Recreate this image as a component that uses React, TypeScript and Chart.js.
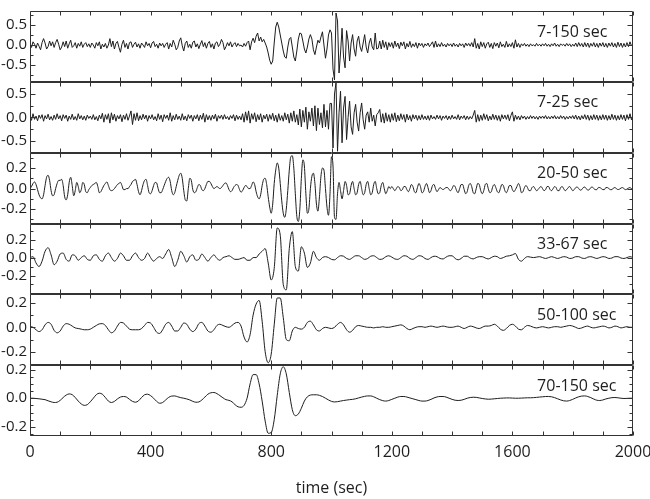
import React, { useEffect, useRef } from 'react';
import { Chart, registerables } from 'chart.js';

Chart.register(...registerables);

// ---------- axes ----------
const X_MIN = 0;
const X_MAX = 2000;
const X_TICKS = [0, 400, 800, 1200, 1600, 2000];
const X_MINOR_STEP = 100;
const X_TITLE = 'time (sec)';

// ---------- panels (top to bottom) ----------
const PANEL_LABELS = ['7-150 sec', '7-25 sec', '20-50 sec', '33-67 sec', '50-100 sec', '70-150 sec'];
const PANEL_MIN = [-0.92, -0.75, -0.34, -0.41, -0.31, -0.264];
const PANEL_MAX = [0.85, 0.76, 0.35, 0.38, 0.27, 0.231];
const PANEL_TICKS = [
  [-0.5, 0, 0.5],
  [-0.5, 0, 0.5],
  [-0.2, 0, 0.2],
  [-0.2, 0, 0.2],
  [-0.2, 0, 0.2],
  [-0.2, 0, 0.2],
];
const PANEL_MINOR = [0.25, 0.25, 0.1, 0.1, 0.1, 0.05];
// sample interval (sec) of each trace
const PANEL_DT = [5, 5, 5, 10, 10, 10];

// ---------- traces ----------
const TRACE_7_150 = [
  0.04, -0.06, 0.08, 0.02, -0.08, 0.05, -0.03, -0.12, 0.06, 0.16, 0.05, -0.1, -0.04, 0.1, -0.02, 0.08, -0.06, 0.06, 0.14, 0.02,
  -0.12, -0.05, 0.08, -0.04, 0.1, -0.08, 0.03, 0.12, -0.06, -0.02, 0.06, -0.08, 0.04, -0.03, 0.08, -0.06, 0.02, 0.06, -0.04, 0.03,
  -0.06, 0.05, 0.0, -0.08, 0.06, -0.02, 0.08, -0.1, 0.02, -0.05, 0.04, -0.08, 0.0, 0.16, -0.04, 0.1, -0.1, 0.04, 0.09, -0.06,
  -0.18, 0.02, 0.12, -0.06, 0.04, -0.1, 0.06, 0.08, -0.06, 0.02, 0.07, -0.05, 0.03, -0.08, 0.05, 0.0, -0.06, 0.08, -0.02, 0.04,
  -0.07, 0.05, 0.09, -0.04, 0.02, -0.08, 0.05, -0.02, 0.04, -0.06, 0.02, 0.06, -0.1, 0.04, -0.05, 0.12, 0.02, -0.12, -0.06, 0.1,
  0.18, -0.02, -0.15, 0.04, 0.1, -0.06, 0.02, -0.08, 0.07, 0.1, -0.05, 0.03, -0.09, 0.02, 0.11, -0.04, 0.06, -0.08, 0.04, 0.09,
  -0.06, 0.03, -0.1, 0.05, 0.08, -0.04, 0.02, 0.14, 0.06, -0.12, -0.04, 0.06, -0.02, 0.08, -0.05, 0.02, 0.06, -0.04, 0.04, -0.02,
  0.0, -0.05, 0.04, -0.03, 0.06, 0.1, -0.12, 0.08, 0.17, 0.06, 0.22, 0.3, 0.1, 0.2, 0.08, 0.14, 0.05, -0.05, -0.2, -0.38,
  -0.48, -0.4, 0.05, 0.45, 0.57, 0.45, 0.25, 0.05, -0.15, -0.3, -0.33, -0.05, 0.15, 0.19, -0.05, -0.3, -0.4, -0.15, 0.15, 0.3,
  0.28, 0.1, -0.1, -0.2, -0.05, 0.15, 0.26, 0.15, -0.12, -0.24, -0.05, 0.12, 0.05, 0.2, 0.33, 0.0, -0.33, -0.1, 0.25, 0.38,
  0.3, -0.6, -0.87, 0.8, 0.6, -0.7, -0.2, 0.42, -0.3, -0.57, 0.36, 0.1, -0.4, 0.05, 0.26, -0.1, -0.28, 0.1, 0.22, -0.05,
  -0.16, 0.05, 0.26, -0.05, -0.2, 0.05, 0.17, -0.05, -0.12, 0.3, -0.1, -0.08, 0.1, -0.1, 0.12, -0.06, 0.08, -0.12, 0.06, -0.04,
  0.06, -0.08, 0.1, -0.04, 0.05, -0.09, 0.07, -0.02, 0.08, -0.1, 0.04, -0.05, 0.09, -0.06, 0.03, -0.04, 0.06, -0.08, 0.05, -0.02,
  0.04, -0.06, 0.03, -0.02, 0.05, -0.04, 0.02, 0.08, -0.06, 0.1, -0.05, 0.03, -0.04, 0.06, -0.03, 0.02, -0.05, 0.04, -0.02, 0.03,
  -0.04, 0.05, -0.03, 0.02, -0.05, 0.04, -0.02, 0.03, -0.06, 0.05, -0.02, 0.04, -0.03, 0.06, -0.05, 0.16, -0.08, 0.04, -0.1, 0.08,
  -0.04, 0.06, -0.08, 0.03, 0.07, -0.06, 0.04, -0.09, 0.06, -0.03, 0.05, -0.07, 0.08, -0.04, 0.02, -0.06, 0.09, -0.05, 0.03, -0.04,
  0.06, -0.08, 0.13, -0.05, 0.04, -0.06, 0.03, -0.02, 0.04, -0.03, 0.02, -0.04, 0.03, -0.02, 0.01, -0.03, 0.04, -0.02, 0.02, -0.03,
  0.03, -0.02, 0.04, -0.03, 0.02, -0.04, 0.03, -0.02, 0.05, -0.03, 0.02, -0.04, 0.03, -0.01, 0.02, -0.03, 0.04, -0.02, 0.03, -0.04,
  0.02, -0.03, 0.05, -0.04, 0.06, -0.03, 0.04, -0.05, 0.06, -0.04, 0.05, -0.06, 0.04, -0.03, 0.06, -0.05, 0.04, -0.06, 0.05, -0.03,
  0.06, -0.05, 0.04, -0.06, 0.05, -0.03, 0.06, -0.05, 0.04, -0.06, 0.07, -0.04, 0.05, -0.06, 0.04, -0.05, 0.06, -0.04, 0.08, -0.02,
  0.03,
];

const TRACE_7_25 = [
  0.05, -0.06, 0.08, -0.04, 0.03, -0.07, 0.05, -0.02, 0.06, -0.08, 0.04, -0.03, 0.07, -0.05, 0.02, -0.06, 0.05, -0.04, 0.08, -0.03,
  0.04, -0.07, 0.06, -0.02, 0.05, -0.08, 0.03, -0.04, 0.07, -0.05, 0.02, -0.06, 0.08, -0.03, 0.04, -0.05, 0.03, -0.06, 0.05, -0.02,
  0.03, -0.04, 0.06, -0.05, 0.02, -0.07, 0.05, -0.03, 0.09, -0.1, 0.06, -0.04, 0.08, -0.12, 0.1, -0.05, 0.07, -0.08, 0.04, -0.03,
  0.06, -0.09, 0.05, -0.04, 0.08, -0.06, 0.03, 0.14, -0.15, 0.08, -0.06, 0.1, -0.07, 0.04, -0.05, 0.07, -0.03, 0.05, -0.08, 0.04,
  -0.03, 0.06, -0.05, 0.02, -0.07, 0.08, -0.04, 0.05, -0.09, 0.06, -0.02, 0.05, -0.06, 0.1, -0.08, 0.04, -0.05, 0.07, -0.04, 0.03,
  -0.06, 0.08, -0.05, 0.03, -0.07, 0.06, -0.02, 0.05, -0.08, 0.04, -0.03, 0.06, -0.07, 0.05, -0.04, 0.09, -0.1, 0.06, -0.05, 0.04,
  -0.06, 0.05, -0.03, 0.07, -0.08, 0.04, -0.02, 0.05, -0.04, 0.06, -0.03, 0.02, -0.05, 0.04, -0.02, 0.06, -0.07, 0.05, -0.04, 0.03,
  -0.05, 0.08, -0.1, 0.12, -0.06, 0.14, -0.12, 0.08, -0.04, 0.1, -0.09, 0.06, -0.05, 0.08, -0.1, 0.05, -0.03, 0.07, -0.08, 0.06,
  -0.04, 0.09, -0.07, 0.05, -0.1, 0.08, -0.06, 0.04, -0.08, 0.1, -0.05, 0.07, -0.12, 0.1, -0.08, 0.14, -0.1, 0.06, -0.16, 0.18,
  -0.2, 0.15, -0.1, 0.22, -0.25, 0.12, -0.08, 0.2, -0.18, 0.25, -0.28, 0.2, -0.15, 0.1, -0.22, 0.28, -0.2, 0.15, -0.25, 0.3,
  0.3, -0.65, 0.5, 0.74, -0.72, 0.1, 0.56, -0.54, 0.2, 0.45, -0.47, 0.0, 0.35, -0.2, -0.36, 0.1, 0.28, -0.1, -0.29, 0.1,
  0.31, -0.05, -0.25, 0.05, 0.12, -0.1, 0.2, -0.08, 0.05, -0.18, 0.06, 0.1, 0.17, -0.1, 0.08, -0.12, 0.1, -0.08, 0.06, -0.1,
  0.08, -0.06, 0.1, -0.09, 0.05, -0.07, 0.08, -0.04, 0.06, -0.1, 0.07, -0.05, 0.04, -0.08, 0.06, -0.03, 0.05, -0.06, 0.04, -0.05,
  0.06, -0.04, 0.03, -0.05, 0.04, -0.06, 0.05, -0.03, 0.02, -0.04, 0.05, -0.03, 0.04, -0.06, 0.03, -0.02, 0.04, -0.05, 0.03, -0.04,
  0.05, -0.03, 0.02, -0.04, 0.06, -0.05, 0.03, -0.02, 0.04, -0.05, 0.03, -0.04, 0.02, -0.03, 0.05, 0.15, -0.1, 0.06, -0.08, 0.05,
  -0.06, 0.08, -0.04, 0.06, -0.07, 0.03, -0.05, 0.07, -0.04, 0.05, -0.06, 0.04, -0.08, 0.06, -0.03, 0.05, -0.04, 0.06, -0.07, 0.04,
  0.12, -0.08, 0.05, -0.04, 0.03, -0.05, 0.04, -0.02, 0.03, -0.04, 0.02, -0.03, 0.04, -0.02, 0.03, -0.03, 0.02, -0.04, 0.03, -0.02,
  0.03, -0.02, 0.04, -0.03, 0.02, -0.03, 0.03, -0.02, 0.04, -0.03, 0.02, -0.03, 0.04, -0.02, 0.03, -0.04, 0.02, -0.03, 0.03, -0.02,
  0.04, -0.03, 0.05, -0.04, 0.03, -0.05, 0.04, -0.03, 0.06, -0.04, 0.05, -0.06, 0.04, -0.05, 0.06, -0.04, 0.05, -0.06, 0.04, -0.05,
  0.06, -0.04, 0.05, -0.06, 0.04, -0.05, 0.07, -0.04, 0.05, -0.06, 0.04, -0.05, 0.06, -0.04, 0.05, -0.07, 0.06, -0.04, 0.08, -0.05,
  0.04,
];

const TRACE_20_50 = [
  0.0, 0.02, 0.05, 0.065, 0.04, -0.01, -0.06, -0.09, -0.1, -0.06, 0.03, 0.11, 0.13, 0.08, -0.02, -0.07, -0.06, 0.0, 0.05, 0.08,
  0.08, 0.09, 0.03, -0.08, -0.11, -0.06, 0.06, 0.11, 0.03, -0.07, -0.02, 0.06, 0.02, -0.04, -0.01, 0.06, 0.04, -0.03, -0.04, -0.01,
  0.01, 0.03, 0.04, 0.05, 0.06, 0.02, -0.04, -0.03, 0.0, 0.03, 0.05, 0.065, 0.03, -0.01, -0.02, -0.015, 0.0, 0.02, 0.04, 0.05,
  0.06, 0.03, -0.01, -0.01, 0.0, 0.0, 0.02, 0.04, 0.07, 0.08, 0.09, 0.04, -0.03, -0.06, -0.02, 0.04, 0.08, 0.09, 0.03, -0.04,
  -0.05, -0.02, 0.03, 0.06, 0.055, 0.0, -0.04, -0.04, -0.01, 0.03, 0.07, 0.1, 0.11, 0.07, -0.02, -0.06, -0.04, 0.02, 0.08, 0.13,
  0.15, 0.1, -0.02, -0.11, -0.12, 0.0, 0.1, 0.08, -0.01, -0.04, -0.03, 0.01, 0.04, 0.03, -0.01, -0.02, 0.0, 0.04, 0.07, 0.07,
  0.05, 0.02, 0.0, 0.01, 0.02, 0.01, 0.0, 0.01, 0.03, 0.05, 0.055, 0.03, -0.01, -0.03, -0.02, 0.01, 0.03, 0.04, 0.03, -0.01,
  -0.035, -0.02, 0.01, 0.03, 0.02, 0.0, 0.0, 0.03, 0.065, 0.04, -0.03, -0.08, -0.1, -0.06, 0.03, 0.09, 0.1, 0.04, -0.08, -0.18,
  -0.24, -0.15, 0.05, 0.18, 0.25, 0.2, 0.05, -0.12, -0.24, -0.28, -0.2, -0.02, 0.18, 0.31, 0.32, 0.2, -0.05, -0.27, -0.32, -0.2,
  0.1, 0.28, 0.22, -0.05, -0.24, -0.2, 0.0, 0.12, 0.15, 0.05, -0.15, -0.22, -0.08, 0.12, 0.2, 0.18, 0.0, -0.18, -0.26, -0.05,
  0.31, 0.22, -0.28, -0.3, -0.05, 0.06, -0.02, -0.1, -0.02, 0.07, 0.03, -0.06, -0.05, 0.03, 0.07, 0.0, -0.06, -0.04, 0.04, 0.07,
  0.0, -0.06, -0.04, 0.04, 0.07, 0.0, -0.06, -0.04, 0.04, 0.07, 0.0, -0.05, -0.04, 0.03, 0.06, 0.0, -0.05, -0.02, 0.02, 0.0,
  0.02, 0.0, -0.02, 0.0, 0.02, 0.01, -0.02, -0.01, 0.02, 0.02, -0.01, -0.03, 0.0, 0.04, 0.02, -0.03, -0.04, 0.01, 0.05, 0.02,
  -0.04, -0.03, 0.02, 0.05, 0.01, -0.04, -0.02, 0.03, 0.04, 0.0, -0.03, -0.01, 0.01, 0.0, -0.01, 0.0, 0.01, 0.01, -0.01, -0.02,
  0.0, 0.03, 0.02, -0.02, -0.04, 0.0, 0.04, 0.04, -0.01, -0.05, -0.03, 0.03, 0.05, 0.02, -0.04, -0.05, 0.0, 0.05, 0.04, -0.02,
  -0.05, -0.02, 0.04, 0.05, 0.0, -0.04, -0.03, 0.02, 0.04, 0.01, -0.03, -0.04, 0.0, 0.04, 0.03, -0.02, -0.04, -0.01, 0.03, 0.03,
  -0.01, -0.03, -0.01, 0.02, 0.05, 0.02, -0.04, -0.03, 0.01, 0.03, 0.01, -0.02, -0.02, 0.01, 0.02, 0.0, -0.02, -0.01, 0.01, 0.02,
  0.0, -0.02, -0.01, 0.02, 0.02, -0.01, -0.02, 0.0, 0.02, 0.01, -0.02, -0.02, 0.01, 0.02, 0.0, -0.02, -0.01, 0.01, 0.02, 0.0,
  -0.02, -0.01, 0.01, 0.015, 0.0, -0.015, -0.01, 0.01, 0.015, 0.0, -0.015, -0.01, 0.01, 0.015, 0.0, -0.01, -0.01, 0.01, 0.01, 0.0,
  -0.01, -0.01, 0.01, 0.01, 0.0, -0.01, -0.01, 0.005, 0.01, 0.0, -0.01, -0.005, 0.005, 0.01, 0.0, -0.01, -0.005, 0.005, 0.01, 0.0,
  0.0,
];

const TRACE_33_67 = [
  0.0, 0.01, -0.06, -0.1, -0.04, 0.07, 0.11, 0.03, -0.08, -0.04,
  0.04, 0.05, -0.02, -0.04, 0.03, 0.02, -0.03, 0.0, 0.02, -0.02,
  -0.03, 0.02, 0.03, -0.02, -0.04, 0.02, 0.05, 0.0, -0.04, -0.01,
  0.05, 0.02, -0.03, -0.03, 0.02, 0.05, 0.0, -0.03, -0.01, 0.05,
  0.0, -0.04, -0.01, 0.01, -0.01, 0.04, 0.09, 0.0, -0.1, -0.03,
  0.07, 0.02, -0.05, 0.01, 0.03, -0.03, -0.02, 0.04, 0.0, -0.04,
  0.0, 0.03, -0.01, -0.03, 0.0, 0.01, 0.02, 0.0, -0.02, -0.02,
  -0.01, 0.0, -0.03, -0.03, 0.0, 0.0, 0.04, 0.07, 0.1, -0.06,
  -0.25, -0.12, 0.33, 0.25, -0.3, -0.36, 0.1, 0.29, -0.1, -0.15,
  0.12, 0.05, -0.11, -0.06, 0.07, 0.0, -0.03, 0.0, 0.01, 0.0,
  -0.02, -0.025, 0.0, 0.02, 0.015, -0.01, -0.02, 0.0, 0.02, 0.02,
  0.0, -0.02, -0.01, 0.015, 0.02, 0.0, -0.02, -0.015, 0.01, 0.02,
  0.005, -0.015, -0.02, 0.0, 0.02, 0.015, -0.01, -0.02, 0.0, 0.02,
  0.015, -0.01, -0.02, 0.0, 0.015, 0.01, -0.01, -0.015, 0.005, 0.02,
  0.02, -0.01, -0.025, -0.01, 0.015, 0.015, -0.005, -0.015, 0.0, 0.01,
  0.01, -0.005, -0.015, 0.0, 0.015, 0.01, -0.01, 0.0, 0.015, 0.02,
  0.03, 0.045, -0.02, -0.04, -0.01, 0.01, 0.005, 0.0, 0.005, 0.01,
  0.0, -0.01, 0.0, 0.01, 0.0, -0.01, 0.0, 0.01, 0.005, -0.01,
  -0.005, 0.01, 0.01, -0.005, -0.01, 0.005, 0.01, 0.0, -0.01, 0.0,
  0.01, 0.005, -0.01, -0.005, 0.01, 0.01, -0.005, -0.01, 0.0, 0.01,
  0.0,
];

const TRACE_50_100 = [
  0.01, 0.0, -0.02, -0.035, -0.02, 0.02, 0.04, 0.025, -0.025, -0.045,
  -0.03, 0.01, 0.03, 0.025, 0.01, -0.005, -0.01, -0.015, -0.02, -0.02,
  -0.015, 0.0, 0.015, 0.028, 0.03, 0.015, -0.02, -0.045, -0.03, 0.01,
  0.04, 0.035, 0.01, -0.015, -0.02, -0.02, -0.02, -0.01, 0.015, 0.04,
  0.035, 0.0, -0.04, -0.05, -0.02, 0.025, 0.04, 0.01, -0.03, -0.03,
  0.0, 0.035, 0.025, -0.015, -0.035, -0.015, 0.03, 0.04, 0.01, -0.03,
  -0.04, -0.02, 0.015, 0.025, 0.015, 0.005, 0.0, 0.015, 0.035, 0.04,
  0.01, -0.08, -0.12, -0.06, 0.1, 0.19, 0.22, 0.05, -0.2, -0.29,
  -0.22, 0.02, 0.24, 0.24, 0.08, -0.1, -0.11, -0.03, 0.0, -0.01,
  -0.015, 0.0, 0.04, 0.05, 0.02, -0.02, -0.03, -0.01, 0.0, -0.005,
  -0.01, 0.0, 0.025, 0.04, 0.02, -0.02, -0.04, -0.025, 0.005, 0.015,
  0.01, 0.005, 0.0, 0.0, -0.005, 0.0, 0.0, 0.005, 0.0, 0.0,
  0.005, 0.01, 0.015, 0.02, 0.01, -0.01, -0.02, -0.01, 0.0, 0.005,
  0.005, 0.0, 0.005, 0.01, 0.005, 0.0, 0.005, 0.01, 0.005, 0.0,
  0.0, 0.005, 0.01, 0.0, -0.01, 0.0, 0.01, 0.005, -0.005, -0.01,
  0.0, 0.01, 0.01, 0.015, 0.025, 0.01, -0.015, -0.025, -0.01, 0.015,
  0.025, 0.01, -0.015, -0.02, 0.0, 0.015, 0.01, 0.0, -0.005, 0.0,
  0.005, 0.0, -0.005, 0.0, 0.005, 0.005, 0.0, 0.005, 0.01, 0.015,
  0.01, 0.0, -0.01, -0.005, 0.005, 0.01, 0.0, -0.005, 0.0, 0.005,
  0.01, 0.005, -0.005, 0.0, 0.01, 0.005, -0.005, 0.0, 0.005, 0.0,
  0.0,
];

const TRACE_70_150 = [
  0.0, 0.0, -0.002, -0.004, -0.007, -0.01, -0.018, -0.025, -0.03, -0.028,
  -0.015, 0.005, 0.022, 0.03, 0.025, 0.005, -0.02, -0.04, -0.05, -0.045,
  -0.025, 0.0, 0.025, 0.035, 0.028, 0.005, -0.02, -0.03, -0.022, -0.005,
  0.008, 0.012, 0.008, -0.008, -0.022, -0.028, -0.018, 0.005, 0.024, 0.028,
  0.018, 0.0, -0.022, -0.035, -0.03, -0.012, 0.006, 0.015, 0.016, 0.01,
  0.004, 0.0, -0.005, -0.012, -0.022, -0.028, -0.026, -0.012, 0.008, 0.028,
  0.038, 0.04, 0.032, 0.018, 0.003, -0.01, -0.015, -0.025, -0.045, -0.06,
  -0.063, -0.05, 0.0, 0.1, 0.165, 0.165, 0.1, -0.02, -0.16, -0.245,
  -0.24, -0.15, 0.02, 0.17, 0.22, 0.17, 0.04, -0.08, -0.122, -0.11,
  -0.07, -0.02, 0.01, 0.022, 0.024, 0.024, 0.02, 0.012, 0.0, -0.012,
  -0.022, -0.026, -0.024, -0.02, -0.016, -0.013, -0.01, -0.008, -0.004, 0.002,
  0.008, 0.013, 0.016, 0.016, 0.01, 0.0, -0.01, -0.017, -0.02, -0.016,
  -0.008, 0.0, 0.008, 0.012, 0.012, 0.008, 0.002, -0.004, -0.01, -0.016,
  -0.02, -0.02, -0.016, -0.008, 0.002, 0.009, 0.012, 0.012, 0.008, 0.0,
  -0.008, -0.014, -0.016, -0.014, -0.008, 0.0, 0.005, 0.007, 0.006, 0.002,
  -0.002, -0.005, -0.007, -0.006, -0.004, -0.002, 0.0, 0.001, 0.002, 0.002,
  0.001, 0.0, 0.0, 0.001, 0.002, 0.003, 0.003, 0.004, 0.006, 0.008,
  0.01, 0.012, 0.012, 0.01, 0.004, -0.004, -0.012, -0.018, -0.02, -0.016,
  -0.008, 0.002, 0.01, 0.015, 0.016, 0.012, 0.004, -0.006, -0.014, -0.016,
  -0.012, -0.005, 0.0, 0.004, 0.005, 0.003, 0.0, -0.002, -0.001, 0.0,
  0.0,
];

const TRACES = [TRACE_7_150, TRACE_7_25, TRACE_20_50, TRACE_33_67, TRACE_50_100, TRACE_70_150];

const INK = '#1e1e1e';
const FONT = '"Open Sans", "DejaVu Sans", sans-serif';

const panelPlugin = {
  id: 'seismoPanels',
  afterDatasetsDraw(chart: any) {
    const ctx = chart.ctx;
    const xs = chart.scales.x;
    const left = Math.round(chart.chartArea.left) + 0.5;
    const right = Math.round(chart.chartArea.right) - 0.5;
    ctx.save();
    ctx.strokeStyle = '#333';
    ctx.lineWidth = 1;
    for (let i = 0; i < PANEL_LABELS.length; i++) {
      const ys = chart.scales['y' + (i + 1)];
      const top = Math.round(ys.top) + 0.5;
      const bottom = Math.round(ys.bottom) - 0.5;
      ctx.beginPath();
      ctx.rect(left, top, right - left, bottom - top);
      // x ticks (inward, top and bottom)
      for (let t = X_MIN; t <= X_MAX; t += X_MINOR_STEP) {
        const px = Math.round(xs.getPixelForValue(t)) + 0.5;
        ctx.moveTo(px, top);
        ctx.lineTo(px, top + 4);
        ctx.moveTo(px, bottom);
        ctx.lineTo(px, bottom - 4);
      }
      // y ticks (inward, left and right)
      const step = PANEL_MINOR[i];
      const start = Math.ceil(PANEL_MIN[i] / step - 1e-9);
      const end = Math.floor(PANEL_MAX[i] / step + 1e-9);
      for (let k = start; k <= end; k++) {
        const v = k * step;
        const py = Math.round(ys.getPixelForValue(v)) + 0.5;
        const major = PANEL_TICKS[i].some((m) => Math.abs(m - v) < 1e-9);
        const len = major ? 5 : 3;
        ctx.moveTo(left, py);
        ctx.lineTo(left + len, py);
        ctx.moveTo(right, py);
        ctx.lineTo(right - len, py);
      }
      ctx.stroke();
      // panel label
      ctx.fillStyle = INK;
      ctx.font = '16px ' + FONT;
      ctx.textAlign = 'left';
      ctx.textBaseline = 'middle';
      const lx = chart.chartArea.left + 0.841 * (chart.chartArea.right - chart.chartArea.left);
      ctx.fillText(PANEL_LABELS[i], lx, ys.top + 21);
    }
    ctx.restore();
  },
};

export default function App() {
  const canvasRef = useRef<HTMLCanvasElement | null>(null);

  useEffect(() => {
    document.body.style.margin = '0';
    const canvas = canvasRef.current;
    if (!canvas) return;

    const scales: any = {
      x: {
        type: 'linear',
        position: 'bottom',
        min: X_MIN,
        max: X_MAX,
        grid: { display: false, drawTicks: false },
        border: { display: false },
        afterBuildTicks: (s: any) => {
          s.ticks = X_TICKS.map((v) => ({ value: v }));
        },
        ticks: {
          color: INK,
          font: { size: 16, family: FONT },
          padding: 7,
          maxRotation: 0,
          autoSkip: false,
          callback: (v: any) => String(v),
        },
        title: {
          display: true,
          text: X_TITLE,
          color: INK,
          font: { size: 16, family: FONT },
          padding: { top: 4, bottom: 1 },
        },
        afterFit: (s: any) => {
          s.height = 63;
          s.paddingLeft = 0;
          s.paddingRight = 0;
        },
      },
    };

    PANEL_LABELS.forEach((_, i) => {
      scales['y' + (i + 1)] = {
        type: 'linear',
        position: 'left',
        stack: 'panels',
        stackWeight: 1,
        weight: PANEL_LABELS.length - i,
        offset: false,
        min: PANEL_MIN[i],
        max: PANEL_MAX[i],
        grid: { display: false, drawTicks: false },
        border: { display: false },
        afterBuildTicks: (s: any) => {
          s.ticks = PANEL_TICKS[i].map((v) => ({ value: v }));
        },
        ticks: {
          color: INK,
          font: { size: 15, family: FONT },
          padding: 3,
          autoSkip: false,
          callback: (v: any) => Number(v).toFixed(1),
        },
        afterFit: (s: any) => {
          s.width = 30;
          s.paddingTop = 0;
          s.paddingBottom = 0;
        },
      };
    });

    const datasets = TRACES.map((trace, i) => ({
      label: PANEL_LABELS[i],
      data: trace.map((v, k) => ({ x: k * PANEL_DT[i], y: v })),
      xAxisID: 'x',
      yAxisID: 'y' + (i + 1),
      borderColor: INK,
      borderWidth: 1,
      pointRadius: 0,
      fill: false,
      cubicInterpolationMode: i >= 2 ? 'monotone' : 'default',
      tension: 0,
    }));

    const chart = new Chart(canvas, {
      type: 'line',
      data: { datasets } as any,
      options: {
        responsive: false,
        animation: false,
        devicePixelRatio: 1,
        events: [],
        layout: { padding: { left: 0, right: 17, top: 11, bottom: 0 } },
        plugins: { legend: { display: false }, tooltip: { enabled: false } },
        scales,
      } as any,
      plugins: [panelPlugin],
    });

    return () => chart.destroy();
  }, []);

  return (
    <div style={{ width: 650, height: 499, background: '#fff' }}>
      <canvas ref={canvasRef} width={650} height={499} style={{ display: 'block' }} />
    </div>
  );
}
